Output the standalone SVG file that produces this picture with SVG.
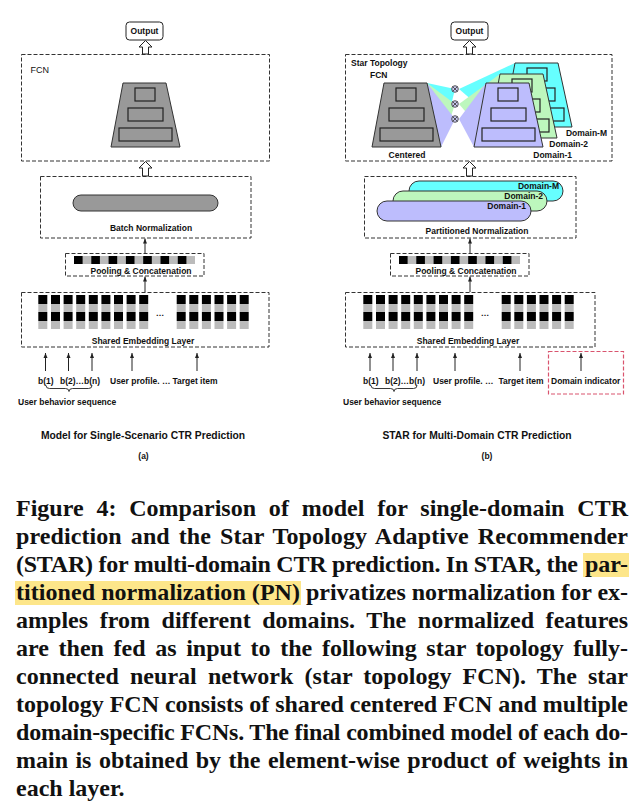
<svg xmlns="http://www.w3.org/2000/svg" xmlns:xlink="http://www.w3.org/1999/xlink" width="644" height="810" viewBox="0 0 644 810">
<style>
.dash{fill:none;stroke:#333;stroke-width:1;stroke-dasharray:4 2}
.red{fill:none;stroke:#d9546e;stroke-width:1.2;stroke-dasharray:4 2}
.lbl{font-family:"Liberation Sans",Arial,sans-serif;font-weight:bold;font-size:8.5px;fill:#111}
.reg{font-weight:normal;font-size:9px}
.ttl{font-size:10.3px}
.mid{text-anchor:middle}
.end{text-anchor:end}
.cap{font-family:"Liberation Serif","Times New Roman",serif;font-weight:bold;font-size:24px;fill:#111}
.hollow{fill:#fff;stroke:#222;stroke-width:1}
.ar{stroke:#222;stroke-width:1;fill:none;marker-end:url(#ah)}
.box{fill:#fff;stroke:#222;stroke-width:1}
.pill{stroke:#333;stroke-width:1}
.blk{fill:#000}
.gry{fill:#bbb}
.hl{fill:#fde68a}
.brace{fill:none;stroke:#222;stroke-width:0.9}
.fan{stroke:none}
.gray{fill:#999}
.pur{fill:#bdbdfd}
.grn{fill:#bdf7bd}
.cyn{fill:#6ff}
</style>
<defs>
<marker id="ah" markerUnits="userSpaceOnUse" markerWidth="5" markerHeight="5" viewBox="0 0 10 10" refX="10" refY="5" orient="auto">
<path d="M0,1 L10,5 L0,9 z" fill="#222"/>
</marker>
<g id="trap" stroke="#333" stroke-width="1">
<polygon points="12,0 55,0 69,64 0,64"/>
<rect x="24" y="5" width="20" height="13" stroke="#222" stroke-width="1.2"/>
<rect x="17" y="25" width="35" height="13" stroke="#222" stroke-width="1.2"/>
<rect x="8" y="45" width="53" height="13" stroke="#222" stroke-width="1.2"/>
</g>
<g id="pool">
<rect class="gry" x="74" y="256" width="121" height="8"/>
<rect class="blk" x="74" y="256" width="8.6" height="8"/>
<rect class="blk" x="91.3" y="256" width="8.6" height="8"/>
<rect class="blk" x="108.6" y="256" width="8.6" height="8"/>
<rect class="blk" x="125.9" y="256" width="8.6" height="8"/>
<rect class="blk" x="143.2" y="256" width="8.6" height="8"/>
<rect class="blk" x="160.5" y="256" width="8.6" height="8"/>
<rect class="blk" x="177.8" y="256" width="8.6" height="8"/>
</g>
<g id="col">
<rect class="blk" x="0" y="295" width="9" height="9"/>
<rect class="gry" x="0" y="304" width="9" height="8"/>
<rect class="blk" x="0" y="312" width="9" height="9"/>
<rect class="gry" x="0" y="321" width="9" height="8"/>
</g>
<g id="emb">
<use xlink:href="#col" x="38.3"/>
<use xlink:href="#col" x="51"/>
<use xlink:href="#col" x="63.6"/>
<use xlink:href="#col" x="76.2"/>
<use xlink:href="#col" x="88.8"/>
<use xlink:href="#col" x="101.4"/>
<use xlink:href="#col" x="114"/>
<use xlink:href="#col" x="126.6"/>
<use xlink:href="#col" x="139.2"/>
<use xlink:href="#col" x="176.7"/>
<use xlink:href="#col" x="189.3"/>
<use xlink:href="#col" x="201.9"/>
<use xlink:href="#col" x="214.5"/>
<use xlink:href="#col" x="227.1"/>
<use xlink:href="#col" x="239.7"/>
</g>
</defs>

<rect width="644" height="810" fill="#fff"/>

<!-- ===== Panel (a) ===== -->
<g id="a-output">
<rect class="box" x="126" y="22" width="37" height="18" rx="3.5"/>
<text class="lbl mid" x="144.5" y="34">Output</text>
</g>
<g id="a-fcn">
<rect class="dash" x="21.5" y="54.5" width="248" height="106.5"/>
<text class="lbl reg" x="30.5" y="73">FCN</text>
<use xlink:href="#trap" x="111" y="83" class="gray"/>
</g>
<g id="a-bn">
<rect class="dash" x="40.5" y="176.5" width="210.5" height="61.5"/>
<rect class="pill gray" x="73" y="195" width="145" height="16" rx="8"/>
<text class="lbl mid" x="151" y="231">Batch Normalization</text>
</g>
<g id="a-pool">
<rect class="dash" x="65.5" y="253.5" width="138.5" height="22.5"/>
<use xlink:href="#pool"/>
<text class="lbl mid" x="141" y="274">Pooling &amp; Concatenation</text>
</g>
<g id="a-emb">
<rect class="dash" x="21.5" y="292.5" width="247.5" height="54.5"/>
<use xlink:href="#emb"/>
<text class="lbl mid" x="160" y="316">…</text>
<text class="lbl mid" x="143" y="344">Shared Embedding Layer</text>
</g>
<g id="a-inputs">
<text class="lbl" x="38" y="384">b(1)</text>
<text class="lbl" x="60" y="384">b(2)…b(n)</text>
<text class="lbl" x="110" y="384">User profile. …</text>
<text class="lbl mid" x="195" y="384">Target item</text>
<path class="brace" d="M46,385.5 Q46,388.5 49.5,388.5 L65.5,388.5 Q69,388.5 69,391.5 Q69,388.5 72.5,388.5 L88.5,388.5 Q92,388.5 92,385.5"/>
<text class="lbl" x="18" y="405">User behavior sequence</text>
</g>
<g id="a-title">
<text class="lbl ttl mid" x="143" y="439">Model for Single-Scenario CTR Prediction</text>
<text class="lbl mid" x="143.5" y="459">(a)</text>
</g>

<!-- ===== Panel (b) ===== -->
<g id="b-output">
<rect class="box" x="451" y="22" width="37" height="18" rx="3.5"/>
<text class="lbl mid" x="469.5" y="34">Output</text>
</g>
<g id="b-fcn">
<rect class="dash" x="345.5" y="54.5" width="266.5" height="106.5"/>
<text class="lbl" x="351" y="66">Star Topology</text>
<text class="lbl" x="370" y="78">FCN</text>
<polygon class="fan cyn" points="455,89 427,83 441,147"/>
<polygon class="fan grn" points="455,104 427,83 441,147"/>
<polygon class="fan pur" points="455,119 427,83 441,147"/>
<use xlink:href="#trap" x="372" y="83" class="gray"/>
<text class="lbl mid" x="407" y="158">Centered</text>
<polygon class="fan cyn" points="459,89 515,63 503,127"/>
<use xlink:href="#trap" x="503" y="63" class="cyn"/>
<polygon class="fan grn" points="459,104 500,74 488,138"/>
<use xlink:href="#trap" x="488" y="74" class="grn"/>
<polygon class="fan pur" points="459,119 486,83 474,147"/>
<use xlink:href="#trap" x="474" y="83" class="pur"/>
<g stroke="#333" stroke-width="0.8" fill="#c8c8ee">
<circle cx="455" cy="89" r="3.3"/>
<circle cx="455" cy="104" r="3.3"/>
<circle cx="455" cy="119" r="3.3"/>
<path fill="none" d="M452.7,86.7 L457.3,91.3 M457.3,86.7 L452.7,91.3 M452.7,101.7 L457.3,106.3 M457.3,101.7 L452.7,106.3 M452.7,116.7 L457.3,121.3 M457.3,116.7 L452.7,121.3"/>
</g>
<text class="lbl end" x="607" y="136">Domain-M</text>
<text class="lbl end" x="588" y="147">Domain-2</text>
<text class="lbl end" x="572" y="158">Domain-1</text>
</g>
<g id="b-pn">
<rect class="dash" x="364.5" y="176.5" width="211.5" height="61.5"/>
<rect class="pill cyn" x="409" y="181" width="154" height="20" rx="10"/>
<text class="lbl end" x="559" y="188.5">Domain-M</text>
<rect class="pill grn" x="393" y="191" width="154" height="20" rx="10"/>
<text class="lbl end" x="543" y="198.5">Domain-2</text>
<rect class="pill pur" x="377" y="201" width="154" height="20" rx="10"/>
<text class="lbl end" x="526" y="209">Domain-1</text>
<text class="lbl mid" x="477" y="234">Partitioned Normalization</text>
</g>
<g id="b-pool">
<rect class="dash" x="390.5" y="253.5" width="138.5" height="22.5"/>
<use xlink:href="#pool" x="325"/>
<text class="lbl mid" x="466" y="274">Pooling &amp; Concatenation</text>
</g>
<g id="b-emb">
<rect class="dash" x="345.5" y="292.5" width="249.5" height="54.5"/>
<use xlink:href="#emb" x="325"/>
<text class="lbl mid" x="485" y="316">…</text>
<text class="lbl mid" x="468" y="344">Shared Embedding Layer</text>
</g>
<g id="b-inputs">
<text class="lbl" x="363" y="384">b(1)</text>
<text class="lbl" x="385" y="384">b(2)…b(n)</text>
<text class="lbl" x="433" y="384">User profile. …</text>
<text class="lbl mid" x="521" y="384">Target item</text>
<path class="brace" d="M371,385.5 Q371,388.5 374.5,388.5 L390.5,388.5 Q394,388.5 394,391.5 Q394,388.5 397.5,388.5 L413.5,388.5 Q417,388.5 417,385.5"/>
<text class="lbl" x="343" y="405">User behavior sequence</text>
</g>
<g id="b-domain">
<rect class="red" x="548.5" y="351.5" width="75" height="42.5"/>
<text class="lbl" x="551" y="384">Domain indicator</text>
</g>
<g id="b-title">
<text class="lbl ttl mid" x="477" y="439">STAR for Multi-Domain CTR Prediction</text>
<text class="lbl mid" x="487" y="459">(b)</text>
</g>

<!-- ===== Connectors ===== -->
<g id="connectors">
<polygon class="hollow" points="145.5,40.5 152,47 148.5,47 148.5,54 142.5,54 142.5,47 139,47"/>
<polygon class="hollow" points="145.5,161.5 152,168 148.5,168 148.5,176 142.5,176 142.5,168 139,168"/>
<polygon class="hollow" points="469.5,40.5 476,47 472.5,47 472.5,54 466.5,54 466.5,47 463,47"/>
<polygon class="hollow" points="469.5,161.5 476,168 472.5,168 472.5,176 466.5,176 466.5,168 463,168"/>
<line class="ar" x1="145" y1="253" x2="145" y2="238.5"/>
<line class="ar" x1="145" y1="292" x2="145" y2="276.5"/>
<line class="ar" x1="470" y1="253" x2="470" y2="238.5"/>
<line class="ar" x1="470" y1="292" x2="470" y2="276.5"/>
<line class="ar" x1="45.5" y1="371" x2="45.5" y2="353"/>
<line class="ar" x1="68.5" y1="371" x2="68.5" y2="353"/>
<line class="ar" x1="92" y1="371" x2="92" y2="353"/>
<line class="ar" x1="132" y1="371" x2="132" y2="353"/>
<line class="ar" x1="197" y1="371" x2="197" y2="353"/>
<line class="ar" x1="370" y1="371" x2="370" y2="353"/>
<line class="ar" x1="393" y1="371" x2="393" y2="353"/>
<line class="ar" x1="417" y1="371" x2="417" y2="353"/>
<line class="ar" x1="455" y1="371" x2="455" y2="353"/>
<line class="ar" x1="520" y1="371" x2="520" y2="353"/>
<line class="ar" x1="581" y1="371" x2="581" y2="353"/>
</g>

<!-- ===== Caption ===== -->
<g id="caption">
<rect class="hl" x="583" y="553" width="46" height="24"/>
<rect class="hl" x="15" y="581" width="286" height="24"/>
<text class="cap" x="16" y="516" textLength="612" lengthAdjust="spacing" word-spacing="6.8">Figure 4: Comparison of model for single-domain CTR</text>
<text class="cap" x="16" y="544" textLength="612" lengthAdjust="spacing" word-spacing="2.9">prediction and the Star Topology Adaptive Recommender</text>
<text class="cap" x="16" y="572" textLength="562" lengthAdjust="spacing">(STAR) for multi-domain CTR prediction. In STAR, the</text>
<text class="cap" x="585" y="572" textLength="43" lengthAdjust="spacing">par-</text>
<text class="cap" x="16" y="600" textLength="284" lengthAdjust="spacing">titioned normalization (PN)</text>
<text class="cap" x="306" y="600" textLength="322" lengthAdjust="spacing">privatizes normalization for ex-</text>
<text class="cap" x="16" y="628" textLength="612" lengthAdjust="spacing" word-spacing="5.5">amples from different domains. The normalized features</text>
<text class="cap" x="16" y="656" textLength="612" lengthAdjust="spacing" word-spacing="3.6">are then fed as input to the following star topology fully-</text>
<text class="cap" x="16" y="684" textLength="612" lengthAdjust="spacing" word-spacing="5.1">connected neural network (star topology FCN). The star</text>
<text class="cap" x="16" y="712" textLength="612" lengthAdjust="spacing">topology FCN consists of shared centered FCN and multiple</text>
<text class="cap" x="16" y="740" textLength="612" lengthAdjust="spacing">domain-specific FCNs. The final combined model of each do-</text>
<text class="cap" x="16" y="768" textLength="612" lengthAdjust="spacing" word-spacing="1.4">main is obtained by the element-wise product of weights in</text>
<text class="cap" x="16" y="796">each layer.</text>
</g>
</svg>
